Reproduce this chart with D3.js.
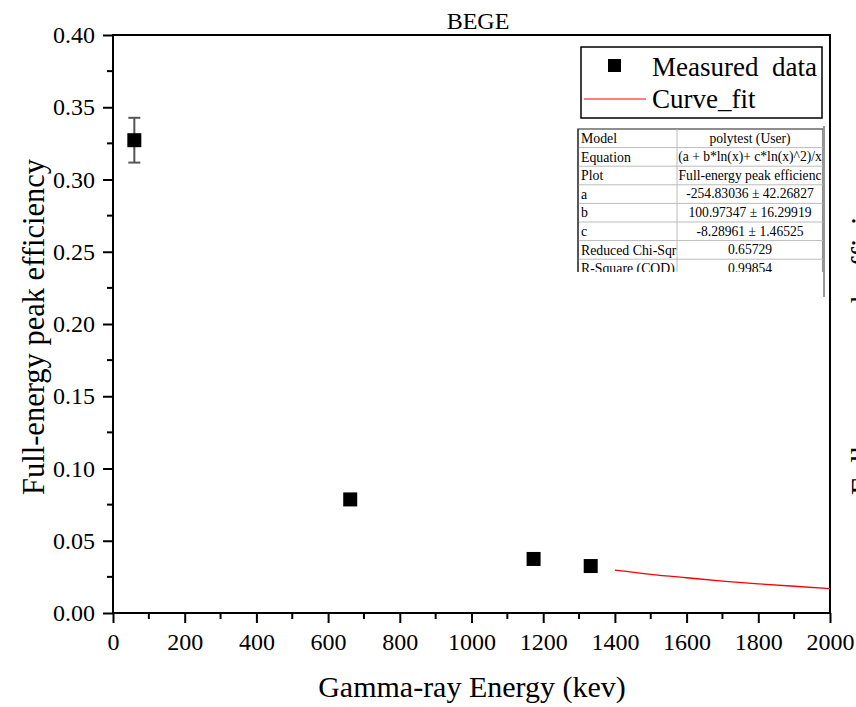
<!DOCTYPE html>
<html><head><meta charset="utf-8">
<script src="https://cdn.jsdelivr.net/npm/d3@7"></script>
<style>body{margin:0;background:#fff}svg{display:block}svg text{font-family:"Liberation Serif","Times New Roman","DejaVu Serif",serif}</style>
</head><body><svg id="c" width="856" height="707"></svg>
<script>
const energies = [59.5, 661.7, 1173.2, 1332.5];
const efficiency = [0.3272, 0.0786, 0.0374, 0.0325];
const errors = [0.0155, 0.0012, 0.0008, 0.0007];
const fitEnergies = [1400, 1500, 1600, 1700, 1800, 1900, 2000];
const fitEfficiency = [0.0297, 0.0268, 0.0244, 0.0221, 0.0202, 0.0185, 0.0169];
const xTicks = [0, 200, 400, 600, 800, 1000, 1200, 1400, 1600, 1800, 2000];
const yTicks = [0.00, 0.05, 0.10, 0.15, 0.20, 0.25, 0.30, 0.35, 0.40];
const tableRows = [["Model","polytest (User)"],["Equation","(a + b*ln(x)+ c*ln(x)^2)/x"],["Plot","Full-energy peak efficienc"],["a","-254.83036 \u00b1 42.26827"],["b","100.97347 \u00b1 16.29919"],["c","-8.28961 \u00b1 1.46525"],["Reduced Chi-Sqr","0.65729"],["R-Square (COD)","0.99854"]];

const svg = d3.select("#c");
const L=113,R=830,T=35,B=613;
const x = d3.scaleLinear().domain([0,2000]).range([L,R]);
const y = d3.scaleLinear().domain([0,0.40]).range([B,T]);

function txt(sel){ return sel.style("font-family","'Liberation Serif', 'Times New Roman', serif"); }

// minor ticks
const xMinor = d3.range(100,2000,200);
const yMinor = d3.range(0.025,0.40,0.05);
svg.append("g").selectAll("line").data(xMinor).join("line")
  .attr("x1",d=>x(d)).attr("x2",d=>x(d)).attr("y1",B).attr("y2",B+6).attr("stroke","#000").attr("stroke-width",2);
svg.append("g").selectAll("line").data(yMinor).join("line")
  .attr("y1",d=>y(d)).attr("y2",d=>y(d)).attr("x1",L).attr("x2",L-6).attr("stroke","#000").attr("stroke-width",2);

const xa = svg.append("g").attr("transform",`translate(0,${B})`)
  .call(d3.axisBottom(x).tickValues(xTicks).tickFormat(d3.format("d")).tickSize(10).tickPadding(7));
const ya = svg.append("g").attr("transform",`translate(${L},0)`)
  .call(d3.axisLeft(y).tickValues(yTicks).tickFormat(d3.format(".2f")).tickSize(10).tickPadding(8));
[xa,ya].forEach(g=>{
  g.attr("font-family",null);
  g.select(".domain").remove();
  g.selectAll("line").attr("stroke","#000").attr("stroke-width",2);
  txt(g.selectAll("text")).attr("font-size",24).attr("fill","#000");
});
xa.selectAll("text").attr("dy","0.85em");
// frame
svg.append("rect").attr("x",L).attr("y",T).attr("width",R-L).attr("height",B-T)
  .attr("fill","none").attr("stroke","#000").attr("stroke-width",2);

// titles
txt(svg.append("text")).attr("x",478).attr("y",29).attr("text-anchor","middle")
  .attr("font-size",24).text("BEGE");
txt(svg.append("text")).attr("x",472).attr("y",697).attr("text-anchor","middle")
  .attr("font-size",30).text("Gamma-ray Energy (kev)");
txt(svg.append("text")).attr("transform","translate(44,327) rotate(-90)").attr("text-anchor","middle")
  .attr("font-size",30.5).text("Full-energy peak efficiency");
txt(svg.append("text")).attr("transform","translate(873,327) rotate(-90)").attr("text-anchor","middle")
  .attr("font-size",30.5).text("Full-energy peak efficiency");

// fit curve
svg.append("path").datum(fitEnergies.map((e,i)=>[e,fitEfficiency[i]]))
  .attr("d",d3.line().x(d=>x(d[0])).y(d=>y(d[1])).curve(d3.curveMonotoneX))
  .attr("fill","none").attr("stroke","#ff0000").attr("stroke-width",1.3);

// error bars
const eb = svg.append("g").attr("stroke","#555").attr("stroke-width",2);
energies.forEach((e,i)=>{
  const cx=x(e), y1=y(efficiency[i]+errors[i]), y2=y(efficiency[i]-errors[i]);
  eb.append("line").attr("x1",cx).attr("x2",cx).attr("y1",y1).attr("y2",y2);
  eb.append("line").attr("x1",cx-6).attr("x2",cx+6).attr("y1",y1).attr("y2",y1);
  eb.append("line").attr("x1",cx-6).attr("x2",cx+6).attr("y1",y2).attr("y2",y2);
});
svg.append("g").selectAll("rect").data(energies).join("rect")
  .attr("x",d=>x(d)-7).attr("y",(d,i)=>y(efficiency[i])-7).attr("width",14).attr("height",14).attr("fill","#000");

// legend
const lg = svg.append("g");
lg.append("rect").attr("x",581).attr("y",47).attr("width",241).attr("height",71).attr("fill","#fff").attr("stroke","#000").attr("stroke-width",1.5);
lg.append("rect").attr("x",608).attr("y",59).attr("width",13).attr("height",13).attr("fill","#000");
txt(lg.append("text")).attr("x",652).attr("y",76).attr("font-size",27).style("white-space","pre").text("Measured  data");
lg.append("line").attr("x1",584).attr("x2",646).attr("y1",99).attr("y2",99).attr("stroke","#ff0000").attr("stroke-width",1);
txt(lg.append("text")).attr("x",652).attr("y",108).attr("font-size",27).text("Curve_fit");

// table
const tx=578, tw=245, c1=99, rh=18.6, ty=129;
const defs = svg.append("defs");
defs.append("clipPath").attr("id","tc").append("rect").attr("x",tx-2).attr("y",ty-2).attr("width",tw+4).attr("height",272-ty+2);
const tb = svg.append("g").attr("clip-path","url(#tc)");
tb.append("rect").attr("x",tx).attr("y",ty).attr("width",tw).attr("height",rh*8).attr("fill","#fff").attr("stroke","#444").attr("stroke-width",1.2);
tableRows.forEach((r,i)=>{
  const yy=ty+i*rh;
  if(i>0) tb.append("line").attr("x1",tx).attr("x2",tx+tw).attr("y1",yy).attr("y2",yy).attr("stroke","#bbb").attr("stroke-width",1);
  txt(tb.append("text")).attr("x",tx+3).attr("y",yy+14).attr("font-size",13.8).text(r[0]);
  txt(tb.append("text")).attr("x",tx+c1+(tw-c1)/2).attr("y",yy+13.5).attr("text-anchor","middle").attr("font-size",13.6).text(r[1]);
});
tb.append("line").attr("x1",tx+c1).attr("x2",tx+c1).attr("y1",ty).attr("y2",ty+rh*8).attr("stroke","#bbb").attr("stroke-width",1);
svg.append("line").attr("x1",tx).attr("x2",tx).attr("y1",ty).attr("y2",272).attr("stroke","#333").attr("stroke-width",1.2);
svg.append("line").attr("x1",824).attr("x2",824).attr("y1",126).attr("y2",297).attr("stroke","#999").attr("stroke-width",2);
</script></body></html>
